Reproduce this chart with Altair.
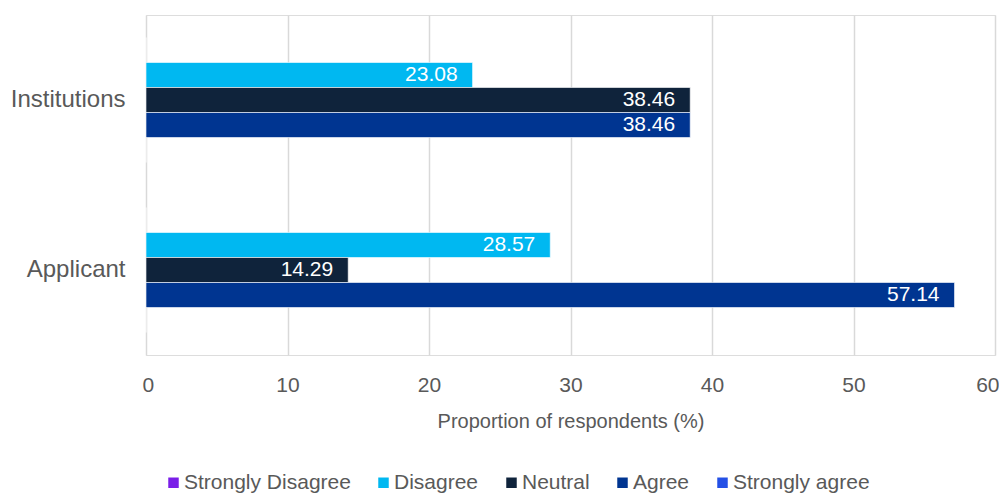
import altair as alt
import pandas as pd

categories = ["Institutions", "Applicant"]
series = ["Strongly Disagree", "Disagree", "Neutral", "Agree", "Strongly agree"]
colors = ["#7A1EE8", "#00B8F1", "#0F233B", "#003591", "#2450E6"]
values_institutions = [0, 23.08, 38.46, 38.46, 0]
values_applicant = [0, 28.57, 14.29, 57.14, 0]
x_ticks = [0, 10, 20, 30, 40, 50, 60]

rows = []
for cat, vals in zip(categories, [values_institutions, values_applicant]):
    for s, v in zip(series, vals):
        rows.append({"category": cat, "series": s, "value": v})
df = pd.DataFrame(rows)

FONT = "Liberation Sans"
GREY = "#595959"

y_enc = alt.Y("category:N", sort=categories, title=None,
              scale=alt.Scale(paddingInner=0, paddingOuter=0),
              axis=alt.Axis(labelFontSize=24, labelColor=GREY, labelFont=FONT,
                            ticks=False, domain=False, labelPadding=21))
yoff_enc = alt.YOffset("series:N", sort=series,
                       scale=alt.Scale(paddingInner=0, paddingOuter=0.9))
x_enc = alt.X("value:Q", title="Proportion of respondents (%)",
              scale=alt.Scale(domain=[0, 60], nice=False),
              axis=alt.Axis(values=x_ticks, labelFontSize=21, labelColor=GREY,
                            labelFont=FONT, ticks=False, domain=False, labelFlush=True,
                            labelFlushOffset=4,
                            labelPadding=19, titleFontSize=20, titleColor=GREY,
                            titleFont=FONT, titleFontWeight="normal",
                            titlePadding=16, gridColor="#d9d9d9", gridWidth=1.5))

bars = alt.Chart(df).mark_bar(stroke="white", strokeWidth=0.6).encode(
    y=y_enc,
    yOffset=yoff_enc,
    x=x_enc,
    color=alt.Color("series:N", sort=series,
                    scale=alt.Scale(domain=series, range=colors),
                    legend=alt.Legend(title=None, orient="none", direction="horizontal",
                                      legendX=17, legendY=457, symbolType="square",
                                      symbolSize=110, symbolStrokeWidth=0,
                                      labelFontSize=21, labelColor=GREY, labelFont=FONT,
                                      labelLimit=400, columnPadding=22, labelOffset=0,
                                      padding=0)),
)

labels = alt.Chart(df).transform_filter("datum.value > 0").mark_text(
    align="right", baseline="middle", dx=-15, color="white", fontSize=21, font=FONT
).encode(
    y=alt.Y("category:N", sort=categories),
    yOffset=alt.YOffset("series:N", sort=series),
    x=alt.X("value:Q"),
    text=alt.Text("value:Q", format=".2f"),
)

chart = alt.layer(bars, labels).properties(
    width=849, height=340,
    autosize=alt.AutoSizeParams(type="none"),
    padding={"left": 138, "top": 7, "right": 4, "bottom": 140},
).configure_view(stroke=None).configure(background="white")

chart.save("out.html", embed_options={"renderer": "svg", "actions": False})
